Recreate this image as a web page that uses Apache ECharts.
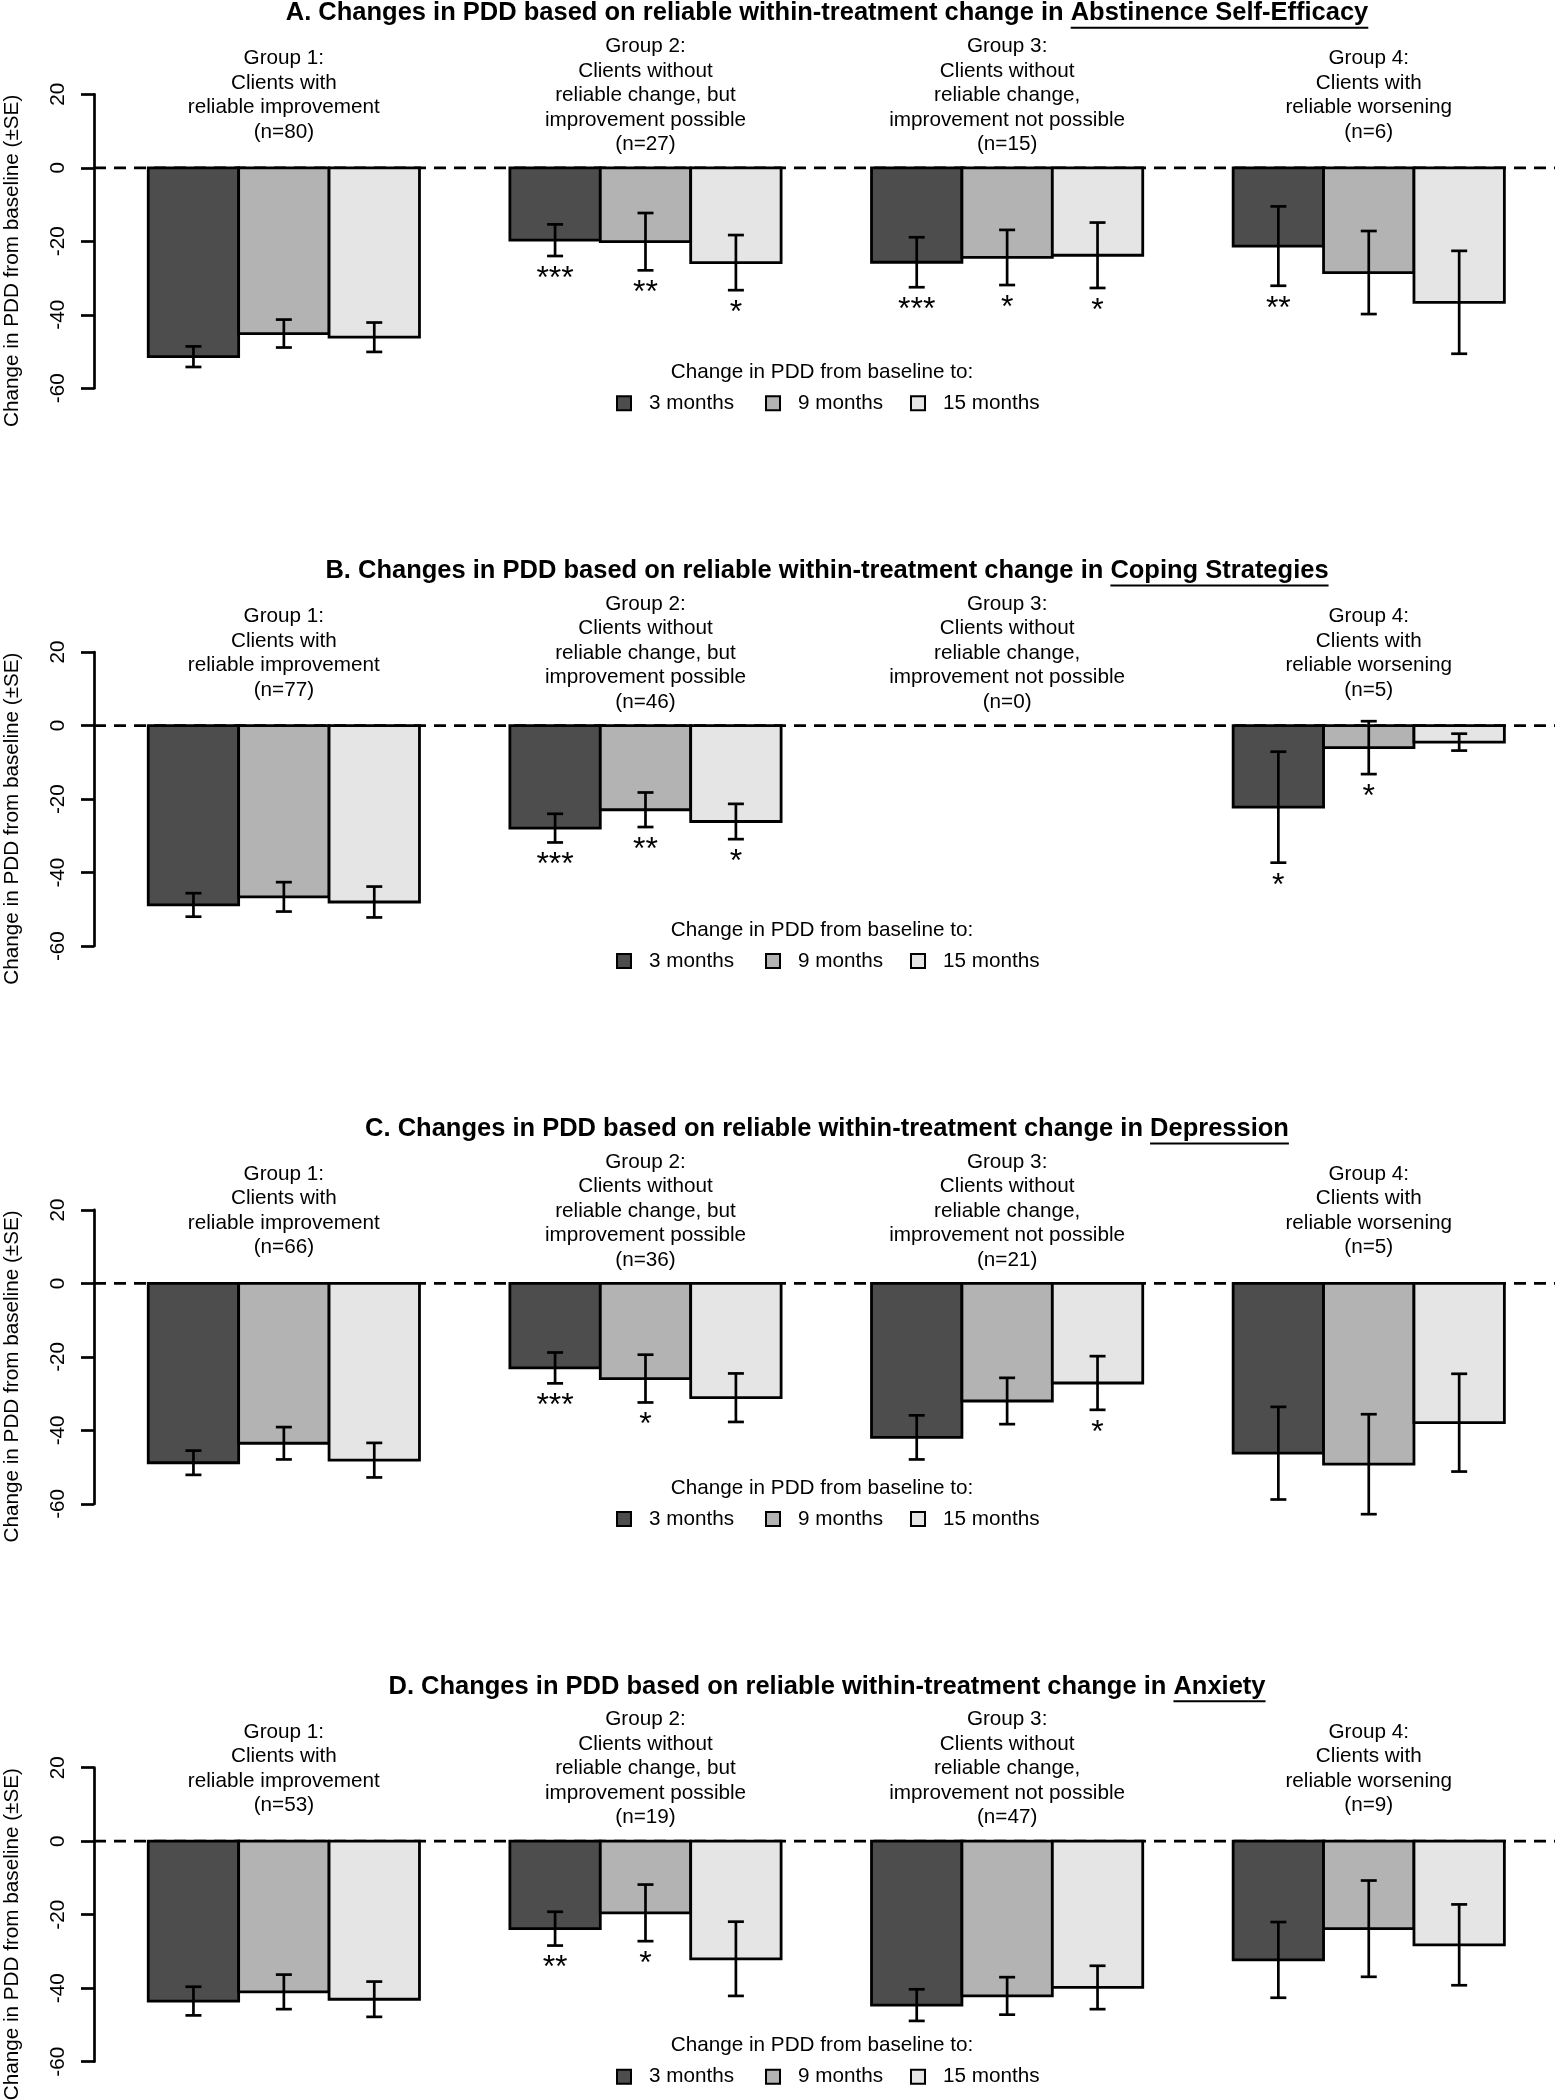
<!DOCTYPE html>
<html><head><meta charset="utf-8">
<script src="https://cdn.jsdelivr.net/npm/echarts@6/dist/echarts.min.js"></script>
<style>html,body{margin:0;padding:0;background:#fff}#chart{width:1555px;height:2100px}</style>
</head><body><div id="chart"></div>
<script>
// ---------- DATA ----------
const timePoints = ['3 months', '9 months', '15 months'];
const groupLabels = [
  'Group 1:\nClients with\nreliable improvement',
  'Group 2:\nClients without\nreliable change, but\nimprovement possible',
  'Group 3:\nClients without\nreliable change,\nimprovement not possible',
  'Group 4:\nClients with\nreliable worsening'
];
const titlePrefixes = [
  'A. Changes in PDD based on reliable within-treatment change in ',
  'B. Changes in PDD based on reliable within-treatment change in ',
  'C. Changes in PDD based on reliable within-treatment change in ',
  'D. Changes in PDD based on reliable within-treatment change in '
];
const outcomes = ['Abstinence Self-Efficacy', 'Coping Strategies', 'Depression', 'Anxiety'];
const yAxisTitle = 'Change in PDD from baseline (\u00B1SE)';
const legendTitle = 'Change in PDD from baseline to:';

// Panel A: Abstinence Self-Efficacy
const nA = [80, 27, 15, 6];
const meanA3 = [-51.4, -19.7, -25.7, -21.3], seA3 = [2.8, 4.3, 6.8, 10.8];
const meanA9 = [-45.1, -20.1, -24.4, -28.5], seA9 = [3.8, 7.8, 7.5, 11.3];
const meanA15 = [-46.1, -25.8, -23.8, -36.6], seA15 = [4.0, 7.5, 8.9, 14.0];
const starsA3 = ['', '***', '***', '**'], starsA9 = ['', '**', '*', ''], starsA15 = ['', '*', '*', ''];

// Panel B: Coping Strategies
const nB = [77, 46, 0, 5];
const meanB3 = [-48.8, -27.9, null, -22.2], seB3 = [3.2, 3.9, null, 15.1];
const meanB9 = [-46.6, -22.9, null, -6.0], seB9 = [4.0, 4.7, null, 7.2];
const meanB15 = [-48.0, -26.1, null, -4.5], seB15 = [4.2, 4.8, null, 2.3];
const starsB3 = ['', '***', '', '*'], starsB9 = ['', '**', '', '*'], starsB15 = ['', '*', '', ''];

// Panel C: Depression
const nC = [66, 36, 21, 5];
const meanC3 = [-48.8, -23.0, -41.9, -46.2], seC3 = [3.3, 4.2, 6.0, 12.6];
const meanC9 = [-43.5, -25.9, -32.0, -49.2], seC9 = [4.4, 6.5, 6.3, 13.6];
const meanC15 = [-48.1, -31.1, -27.1, -37.9], seC15 = [4.7, 6.6, 7.3, 13.3];
const starsC3 = ['', '***', '', ''], starsC9 = ['', '*', '', ''], starsC15 = ['', '', '*', ''];

// Panel D: Anxiety
const nD = [53, 19, 47, 9];
const meanD3 = [-43.5, -23.8, -44.6, -32.3], seD3 = [3.9, 4.6, 4.3, 10.3];
const meanD9 = [-41.0, -19.5, -42.1, -23.8], seD9 = [4.7, 7.7, 5.1, 13.1];
const meanD15 = [-43.0, -32.0, -39.8, -28.2], seD15 = [4.8, 10.1, 5.9, 11.0];
const starsD3 = ['', '**', '', ''], starsD9 = ['', '*', '', ''], starsD15 = ['', '', '', ''];

const yMin = -60, yMax = 20, yStep = 20;

const panels = [
  { n: nA, mean: [meanA3, meanA9, meanA15], se: [seA3, seA9, seA15], stars: [starsA3, starsA9, starsA15] },
  { n: nB, mean: [meanB3, meanB9, meanB15], se: [seB3, seB9, seB15], stars: [starsB3, starsB9, starsB15] },
  { n: nC, mean: [meanC3, meanC9, meanC15], se: [seC3, seC9, seC15], stars: [starsC3, starsC9, starsC15] },
  { n: nD, mean: [meanD3, meanD9, meanD15], se: [seD3, seD9, seD15], stars: [starsD3, starsD9, starsD15] }
];

// ---------- STYLE / LAYOUT ----------
const FONT = '"Liberation Sans", Arial, Helvetica, sans-serif';
const barColors = ['#4d4d4d', '#b3b3b3', '#e5e5e5'];
const AXIS_X = 94, TOP0 = 94.3, STEP = 557.8, PH = 294;
const XMIN = 0.4, XMAX = 16.56;
const TITLE_X = 827, TITLE_FS = 25.5, FS = 20.7;
const legendLefts = [616, 765, 910];
function barLeft(g, i) { return 1 + 4 * g + i; }

const measCtx = document.createElement('canvas').getContext('2d');
function textW(t, font) { measCtx.font = font; return measCtx.measureText(t).width; }

const grids = [], xAxes = [], yAxes = [], series = [], legends = [], graphics = [];

panels.forEach((p, k) => {
  const top = TOP0 + STEP * k;
  grids.push({ left: AXIS_X, right: 0, top: top, height: PH });
  xAxes.push({ type: 'value', gridIndex: k, min: XMIN, max: XMAX, show: false });
  yAxes.push({
    type: 'value', gridIndex: k, min: yMin, max: yMax, interval: yStep,
    axisLine: { show: true, lineStyle: { color: '#000', width: 2.7 } },
    axisTick: { show: true, length: 13, lineStyle: { color: '#000', width: 2.7 } },
    axisLabel: { rotate: 90, margin: 25, fontSize: FS, color: '#000', fontFamily: FONT },
    splitLine: { show: false }
  });
  series.push({
    type: 'line', xAxisIndex: k, yAxisIndex: k, data: [[XMIN, 0], [XMAX, 0]],
    symbol: 'none', silent: true, z: 1,
    lineStyle: { color: '#000', width: 2.7, type: [12, 8] }
  });
  timePoints.forEach((tp, i) => {
    const mean = p.mean[i], se = p.se[i], stars = p.stars[i];
    series.push({
      type: 'custom', name: tp, xAxisIndex: k, yAxisIndex: k, z: 2, clip: false,
      itemStyle: { color: barColors[i], borderColor: '#000' },
      data: mean.map((m, g) => [g, m == null ? 0 : m]),
      encode: { x: 0, y: 1 },
      renderItem: function (params, api) {
        const g = params.dataIndex;
        const m = mean[g], s = se[g];
        if (m == null) return null;
        const x0 = barLeft(g, i);
        const a = api.coord([x0, 0]), b = api.coord([x0 + 1, m]);
        const xc = api.coord([x0 + 0.5, 0])[0];
        const hi = api.coord([x0 + 0.5, m + s])[1], lo = api.coord([x0 + 0.5, m - s])[1];
        const ch = [
          { type: 'rect', shape: { x: a[0], y: Math.min(a[1], b[1]), width: b[0] - a[0], height: Math.abs(b[1] - a[1]) },
            style: { fill: barColors[i], stroke: '#000', lineWidth: 2.8 } },
          { type: 'line', shape: { x1: xc, y1: hi, x2: xc, y2: lo }, style: { stroke: '#000', lineWidth: 2.7 } },
          { type: 'line', shape: { x1: xc - 8, y1: hi, x2: xc + 8, y2: hi }, style: { stroke: '#000', lineWidth: 2.7 } },
          { type: 'line', shape: { x1: xc - 8, y1: lo, x2: xc + 8, y2: lo }, style: { stroke: '#000', lineWidth: 2.7 } }
        ];
        if (stars[g]) {
          ch.push({ type: 'text', style: { text: stars[g], x: xc, y: lo + 23, align: 'center', verticalAlign: 'middle',
            textAlign: 'center', textVerticalAlign: 'middle', fontSize: 32, fontFamily: FONT, fill: '#000' } });
        }
        return { type: 'group', children: ch };
      }
    });
  });
  // group header labels (centred at y = 20)
  series.push({
    type: 'custom', xAxisIndex: k, yAxisIndex: k, z: 3, clip: false, silent: true,
    data: groupLabels.map((t, g) => [g, yMax]),
    encode: { x: 0, y: 1 },
    renderItem: function (params, api) {
      const g = params.dataIndex;
      const c = api.coord([barLeft(g, 0) + 1.5, yMax]);
      return { type: 'text', style: { text: groupLabels[g] + '\n(n=' + p.n[g] + ')', x: c[0], y: c[1] + 1,
        align: 'center', verticalAlign: 'middle', textAlign: 'center', textVerticalAlign: 'middle',
        fontSize: FS, lineHeight: 24.5, fontFamily: FONT, fill: '#000' } };
    }
  });
  timePoints.forEach((tp, i) => {
    legends.push({
      top: top + 309 - 10.5, left: legendLefts[i], padding: 0, data: [tp], itemWidth: 14, itemHeight: 14,
      selectedMode: false, icon: 'rect', itemStyle: { borderColor: '#000', borderWidth: 2 },
      textStyle: { fontSize: FS, color: '#000', fontFamily: FONT, padding: [0, 0, 0, 13] }
    });
  });
  // panel title with underlined outcome
  const tFont = 'bold ' + TITLE_FS + 'px ' + FONT;
  const full = titlePrefixes[k] + outcomes[k];
  const wFull = textW(full, tFont), wPre = textW(titlePrefixes[k], tFont);
  const left = TITLE_X - wFull / 2;
  graphics.push({ type: 'text', x: TITLE_X, y: top - 81, style: { text: full, align: 'center', verticalAlign: 'middle',
    textAlign: 'center', textVerticalAlign: 'middle', fontSize: TITLE_FS, fontWeight: 'bold', fontFamily: FONT, fill: '#000' } });
  graphics.push({ type: 'line', shape: { x1: left + wPre, y1: top - 66.5, x2: left + wFull, y2: top - 66.5 },
    style: { stroke: '#000', lineWidth: 2 } });
  graphics.push({ type: 'text', x: 822, y: top + 278, style: { text: legendTitle, align: 'center', verticalAlign: 'middle',
    textAlign: 'center', textVerticalAlign: 'middle', fontSize: FS, fontFamily: FONT, fill: '#000' } });
  graphics.push({ type: 'text', x: 12, y: top + 166.5, rotation: Math.PI / 2, style: { text: yAxisTitle, align: 'center', verticalAlign: 'middle',
    textAlign: 'center', textVerticalAlign: 'middle', fontSize: FS, fontFamily: FONT, fill: '#000' } });
});

const chart = echarts.init(document.getElementById('chart'), null, { renderer: 'canvas' });
chart.setOption({
  animation: false,
  backgroundColor: '#fff',
  grid: grids, xAxis: xAxes, yAxis: yAxes, series: series, legend: legends,
  graphic: { elements: graphics }
});
</script></body></html>
